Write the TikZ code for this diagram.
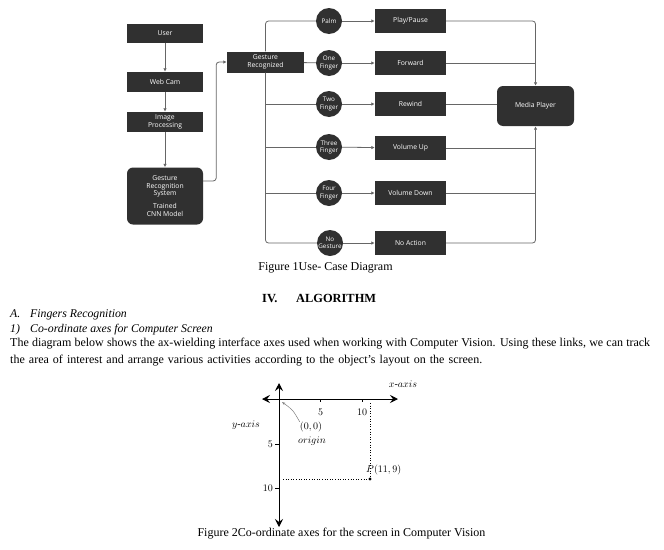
\documentclass[tikz,border=0pt]{standalone}
\usepackage{fontspec}
\setmainfont{Liberation Serif}
\newfontfamily\dsans{Open Sans}
\usetikzlibrary{arrows.meta,calc}
\definecolor{boxgray}{HTML}{303030}
\definecolor{linegray}{HTML}{666666}
\begin{document}
\begin{tikzpicture}[x=1pt,y=-1pt,
  box/.style={fill=boxgray,draw=none,text=white,font=\dsans\fontsize{6.8}{7.8}\selectfont,
    minimum width=76,minimum height=20,inner sep=1,align=center},
  rbox/.style={box,rounded corners=6},
  abox/.style={box,minimum width=71,minimum height=24},
  circ/.style={circle,fill=boxgray,text=white,font=\dsans\fontsize{6.3}{7.1}\selectfont,
    minimum size=26,inner sep=0,align=center},
  conn/.style={draw=linegray,line width=0.8,rounded corners=3},
  arr/.style={-{Latex[length=3.5,width=3.5]}},
  body/.style={font=\fontsize{12}{14}\selectfont,inner sep=0},
  ital/.style={font=\itshape\fontsize{11.8}{14}\selectfont,inner sep=0,anchor=base west},
  bld/.style={font=\bfseries\fontsize{12.4}{14}\selectfont,inner sep=0,anchor=base west},
  axlab/.style={font=\fontsize{10}{11}\selectfont,inner sep=0},
  bigarr/.style={{Stealth[length=8,width=8,inset=3]}-{Stealth[length=8,width=8,inset=3]}},
]
\useasboundingbox (0,0) rectangle (664,549);
\fill[white] (0,0) rectangle (664,549);
% left column
\node[box,minimum height=19] (user) at (165,33) {User};
\node[box] (webcam) at (165,82) {Web Cam};
\node[box] (imgproc) at (165,122) {Image\\Processing};
\node[rbox,minimum height=57] (grs) at (165,196) {Gesture\\Recognition\\System\\[5pt]Trained\\CNN Model};
\node[box,minimum width=77,minimum height=21] (gr) at (265.5,62) {Gesture\\Recognized};
% circles
\node[circ] (palm) at (329,21) {Palm};
\node[circ] (one) at (329,63) {One\\Finger};
\node[circ] (two) at (329,104) {Two\\Finger};
\node[circ] (three) at (329,147) {Three\\Finger};
\node[circ] (four) at (329,193) {Four\\Finger};
\node[circ] (nog) at (330,243) {No\\Gesture};
% actions
\node[abox] (pp) at (410.5,21) {Play/Pause};
\node[abox] (fw) at (410.5,63) {Forward};
\node[abox] (rw) at (410.5,104) {Rewind};
\node[abox] (vu) at (410.5,148) {Volume Up};
\node[abox] (vd) at (410.5,193) {Volume Down};
\node[abox] (na) at (410.5,243) {No Action};
\node[rbox,minimum width=77,minimum height=40] (mp) at (535.5,106) {Media Player};
% connectors
\draw[conn,arr] (user) -- (webcam);
\draw[conn,arr] (webcam) -- (imgproc);
\draw[conn,arr] (imgproc) -- (grs);
\draw[conn,arr] ([yshift=15pt]grs.east) -- ++(13,0) |- (gr.west);
\draw[conn] (gr) -- (one);
\draw[conn] (gr.north) |- (palm.west);
\draw[conn] (gr.south) |- (nog.west);
\draw[conn] (gr.south |- two) -- (two.west);
\draw[conn] (gr.south |- three) -- (three.west);
\draw[conn] (gr.south |- four) -- (four.west);
\draw[conn,arr] (palm) -- (pp);
\draw[conn,arr] (one) -- (fw);
\draw[conn,arr] (two) -- (rw);
\draw[conn,arr] (three) -- (vu);
\draw[conn,arr] (four) -- (vd);
\draw[conn,arr] (nog) -- (na);
\draw[conn,arr] (pp.east) -| (mp.north);
\draw[conn] (fw.east) -- (fw.east -| mp.north);
\draw[conn] (rw.east) -- (rw.east -| mp.west);
\draw[conn,arr] (na.east) -| (mp.south);
\draw[conn] (vu.east) -- (vu.east -| mp.south);
\draw[conn] (vd.east) -- (vd.east -| mp.south);
% texts
\node[body] (cap1) at (325.5,268) {Figure 1Use- Case Diagram};
\node[bld] (sec) at (262,302) {IV.};
\node[bld] (secname) at (296,302) {ALGORITHM};
\node[ital] (suba) at (10,317) {A.};
\node[ital] (subaname) at (30,317) {Fingers Recognition};
\node[ital] (sub1) at (10,332) {1)};
\node[ital] (sub1name) at (30,332) {Co-ordinate axes for Computer Screen};
\node[body,anchor=west] (par1) at (10,344) {\makebox[640pt][s]{The diagram below shows the ax-wielding interface axes used when working with Computer Vision. Using these links, we can track}};
\node[body,anchor=west] (par2) at (10,361) {\makebox[472pt][s]{the area of interest and arrange various activities according to the object's layout on the screen.}};
% axes
\coordinate (O) at (279,399);
\coordinate (xl) at (262,399);
\coordinate (xr) at (398,399);
\coordinate (yt) at (279,383);
\coordinate (yb) at (279,527);
\coordinate (P) at (370,479);
\draw[line width=0.9,bigarr] (xl) -- (xr);
\draw[line width=0.9,bigarr] (yt) -- (yb);
\draw[line width=0.5] (320.5,399) -- (320.5,402) (362,399) -- (362,402);
\draw[line width=0.5] (275,444) -- (279,444) (275,488) -- (279,488);
\node[axlab] (x5) at (320.5,412) {$5$};
\node[axlab] (x10) at (362,412) {$10$};
\node[axlab,anchor=east] (y5) at (273,444) {$5$};
\node[axlab,anchor=east] (y10) at (273,488) {$10$};
\node[axlab] (xlab) at (403,384) {$x$-$axis$};
\node[axlab] (ylab) at (246,425) {$y$-$axis$};
\node[axlab] (zero) at (311,427) {$(0,0)$};
\node[axlab] (orig) at (312,441) {$origin$};
\node[axlab,anchor=south west] (plab) at (366,475) {$P(11,9)$};
\draw[dotted,line width=0.6] (283,479) -- (P);
\draw[dotted,line width=0.6] (370,403) -- (P);
\fill (P) circle (1.6);
\draw[gray,line width=0.5,-{Stealth[length=3.5,width=2.5]}] (zero.north west) .. controls (293,410) .. (282,402);
\node[body] (cap2) at (341.5,534) {Figure 2Co-ordinate axes for the screen in Computer Vision};
\end{tikzpicture}
\end{document}
